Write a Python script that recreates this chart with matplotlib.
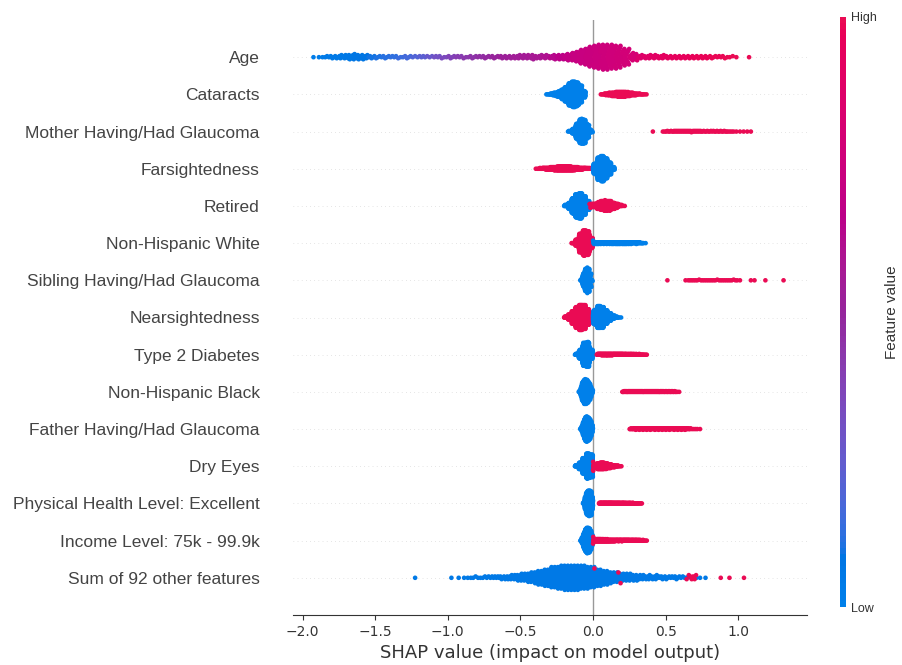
import numpy as np
import matplotlib
matplotlib.use("Agg")
import matplotlib.pyplot as plt
from matplotlib.colors import ListedColormap
from matplotlib.cm import ScalarMappable
from matplotlib.colors import Normalize

# Feature names, top to bottom
features = [
    "Age",
    "Cataracts",
    "Mother Having/Had Glaucoma",
    "Farsightedness",
    "Retired",
    "Non-Hispanic White",
    "Sibling Having/Had Glaucoma",
    "Nearsightedness",
    "Type 2 Diabetes",
    "Non-Hispanic Black",
    "Father Having/Had Glaucoma",
    "Dry Eyes",
    "Physical Health Level: Excellent",
    "Income Level: 75k - 99.9k",
    "Sum of 92 other features",
]

# SHAP value histograms. Each component: (first bin edge, bin width, feature value, counts per bin)
age_start, age_step = -1.95, 0.05
age_counts = [1, 2, 4, 5, 7, 9, 9, 7, 5, 4,
              4, 4, 3, 4, 3, 4, 3, 4, 3, 4,
              4, 3, 4, 4, 4, 4, 5, 5, 6, 7,
              7, 6, 6, 7, 9, 11, 18, 26, 34, 40,
              42, 40, 36, 26, 14, 6, 6, 6, 6, 5,
              5, 5, 5, 5, 5, 4, 4, 3, 2, 0, 1]
age_values = [0.02, 0.03, 0.04, 0.05, 0.05, 0.06, 0.07, 0.08, 0.09, 0.10,
              0.11, 0.12, 0.14, 0.16, 0.19, 0.22, 0.26, 0.30, 0.34, 0.37,
              0.40, 0.42, 0.44, 0.46, 0.48, 0.50, 0.52, 0.53, 0.54, 0.55,
              0.56, 0.58, 0.60, 0.63, 0.66, 0.69, 0.71, 0.72, 0.73, 0.74,
              0.75, 0.76, 0.77, 0.78, 0.80, 0.85, 0.88, 0.90, 0.92, 0.93,
              0.94, 0.95, 0.96, 0.97, 0.97, 0.98, 0.98, 0.99, 0.99, 1.0, 1.0]

cataracts = [
    (-0.325, 0.025, 0.0, [3, 8, 16, 28, 45, 70, 105, 120, 110, 80, 30]),
    (0.05, 0.025, 1.0, [3, 8, 14, 18, 22, 24, 24, 20, 15, 10, 6, 4, 2]),
]
mother = [
    (-0.175, 0.025, 0.0, [4, 20, 55, 80, 75, 40, 6]),
    (0.40, 0.025, 1.0, [1, 0, 0, 2, 3, 3, 4, 4, 4, 4, 4, 4, 4, 4, 3, 3, 3, 3, 3,
                        3, 3, 2, 2, 1, 1, 1, 1, 1]),
]
farsighted = [
    (-0.40, 0.025, 1.0, [2, 6, 10, 14, 18, 22, 26, 28, 28, 26, 22, 18, 14, 10, 7, 4]),
    (0.0, 0.025, 0.0, [60, 130, 150, 120, 70, 20]),
]
retired = [
    (-0.20, 0.025, 0.0, [10, 40, 100, 150, 160, 120, 60, 15]),
    (-0.025, 0.025, 1.0, [8, 25, 45, 60, 67, 60, 42, 25, 10, 2]),
]
nh_white = [
    (-0.15, 0.025, 1.0, [5, 40, 110, 150, 140, 60]),
    (0.0, 0.025, 0.0, [12, 12, 11, 11, 11, 12, 12, 12, 12, 12, 11, 10, 8, 5, 1]),
]
sibling = [
    (-0.09, 0.01, 0.0, [2, 12, 22, 27, 28, 27, 22, 12, 2]),
    (0.50, 0.025, 1.0, [1, 0, 0, 0, 0, 1, 2, 2, 2, 2, 2, 2, 2, 2, 2, 2, 2, 2, 2, 2,
                        1, 0, 0, 1, 1, 0, 0, 1, 0, 0, 0, 0, 1]),
]
nearsighted = [
    (-0.20, 0.025, 1.0, [10, 35, 80, 130, 160, 150, 100, 40]),
    (0.0, 0.025, 0.0, [90, 140, 130, 90, 50, 22, 8, 2]),
]
diabetes = [
    (-0.125, 0.025, 0.0, [10, 60, 150, 160, 60]),
    (0.025, 0.025, 1.0, [10, 12, 12, 12, 11, 10, 10, 9, 8, 8, 7, 6, 5, 3]),
]
nh_black = [
    (-0.10, 0.01, 0.0, [3, 20, 40, 50, 52, 50, 44, 35, 22, 8]),
    (0.20, 0.025, 1.0, [6, 7, 7, 7, 7, 7, 7, 7, 7, 7, 7, 6, 6, 6, 5, 2]),
]
father = [
    (-0.09, 0.01, 0.0, [3, 18, 32, 40, 42, 40, 34, 25, 12]),
    (0.25, 0.025, 1.0, [5, 7, 7, 7, 7, 7, 7, 7, 7, 7, 7, 7, 7, 7, 7, 7, 5, 2, 2, 1]),
]
dry_eyes = [
    (-0.15, 0.025, 0.0, [0, 15, 60, 140, 220, 200]),
    (0.0, 0.025, 1.0, [30, 55, 60, 50, 35, 20, 10, 3]),
]
physical = [
    (-0.07, 0.01, 0.0, [5, 40, 70, 80, 80, 75, 40]),
    (0.04, 0.025, 1.0, [10, 10, 10, 10, 9, 9, 9, 8, 8, 7, 6, 4]),
]
income = [
    (-0.09, 0.01, 0.0, [2, 20, 45, 65, 75, 75, 70, 55, 30]),
    (0.0, 0.025, 1.0, [20, 22, 20, 18, 16, 14, 12, 12, 11, 11, 10, 10, 9, 7, 3]),
]
sum_other_low = (-1.25, 0.05, 0.05,
                 [1, 0, 0, 0, 0, 1, 1, 2, 3, 3, 4, 5, 6, 8, 11, 14, 18, 24, 30, 36,
                  40, 42, 42, 40, 36, 30, 24, 19, 16, 13, 11, 9, 8, 7, 6, 5, 5, 4, 3, 2, 1])
sum_other_high = [0.01, 0.175, 0.19, 0.645, 0.66, 0.67, 0.68, 0.69, 0.70, 0.71,
                  0.88, 0.94, 1.04]

tick_values = [-2.0, -1.5, -1.0, -0.5, 0.0, 0.5, 1.0]


def expand(start, step, value, counts):
    """Spread each bin's count evenly across the bin."""
    xs, vs = [], []
    for k, n in enumerate(counts):
        lo = start + k * step
        for j in range(n):
            xs.append(lo + (j + 0.5) / n * step)
            vs.append(value)
    return xs, vs


def beeswarm_offsets(shaps, row_height=0.4, nbins=100):
    n = len(shaps)
    quant = np.round(nbins * (shaps - shaps.min()) / (shaps.max() - shaps.min() + 1e-8))
    order = np.argsort(quant, kind="stable")
    ys = np.zeros(n)
    layer, last = 0, -1
    for i in order:
        if quant[i] != last:
            layer = 0
        ys[i] = np.ceil(layer / 2) * ((layer % 2) * 2 - 1)
        layer += 1
        last = quant[i]
    ys *= 0.9 * (row_height / np.max(ys + 1))
    return ys


def lch_to_rgb(l, c, h):
    a, b = c * np.cos(h), c * np.sin(h)
    fy = (l + 16) / 116
    fx = fy + a / 500
    fz = fy - b / 200

    def finv(t):
        return t ** 3 if t > 6 / 29 else 3 * (6 / 29) ** 2 * (t - 4 / 29)

    xyz = np.array([0.95047 * finv(fx), finv(fy), 1.08883 * finv(fz)])
    m = np.array([[3.2406, -1.5372, -0.4986],
                  [-0.9689, 1.8758, 0.0415],
                  [0.0557, -0.2040, 1.0570]])
    lin = m @ xyz
    rgb = np.where(lin > 0.0031308, 1.055 * np.abs(lin) ** (1 / 2.4) - 0.055, 12.92 * lin)
    return np.clip(rgb, 0, 1)


# Blue-to-red colormap interpolated in LCH space
nsteps = 100
blue_lch = [52.0, 64.0, 4.80]
red_lch = [50.0, 80.0, 0.30 + 2 * np.pi]
l_mid = 38.0
l_vals = list(np.linspace(blue_lch[0], l_mid, nsteps // 2)) + list(np.linspace(l_mid, red_lch[0], nsteps // 2))
c_vals = np.linspace(blue_lch[1], red_lch[1], nsteps)
h_vals = np.linspace(blue_lch[2], red_lch[2], nsteps)
cmap = ListedColormap([lch_to_rgb(l, c, h) for l, c, h in zip(l_vals, c_vals, h_vals)])

# Assemble per-row points
rows = []
xs, vs = [], []
for k, n in enumerate(age_counts):
    bx, _ = expand(age_start + k * age_step, age_step, 0, [n])
    xs += bx
    vs += [age_values[k]] * n
rows.append((xs, vs))
for comps in [cataracts, mother, farsighted, retired, nh_white, sibling, nearsighted,
              diabetes, nh_black, father, dry_eyes, physical, income]:
    xs, vs = [], []
    for comp in comps:
        bx, bv = expand(*comp)
        xs += bx
        vs += bv
    rows.append((xs, vs))
xs, vs = expand(*sum_other_low)
xs += sum_other_high
vs += [1.0] * len(sum_other_high)
rows.append((xs, vs))

W, H = 903, 665
fig = plt.figure(figsize=(W / 100, H / 100), dpi=100)
ax = fig.add_axes([293 / W, 1 - 615 / H, 514 / W, 595 / H])

n_rows = len(features)
for i, (xs, vs) in enumerate(rows):
    pos = n_rows - 1 - i
    ax.axhline(y=pos, color="#cccccc", lw=0.5, dashes=(1, 5), zorder=-1)
    shaps = np.array(xs)
    ys = beeswarm_offsets(shaps)
    ax.scatter(shaps, pos + ys, c=vs, cmap=cmap, vmin=0, vmax=1, s=11,
               linewidth=0, zorder=3)

ax.axvline(x=0, color="#999999", lw=1, zorder=-1)

ax.set_xlim(-2.066, 1.474)
ax.set_ylim(-1, n_rows)
ax.set_xticks(tick_values)
ax.set_xticklabels([f"{t:.1f}".replace("-", "\u2212") for t in tick_values])
ax.set_yticks(range(n_rows))
ax.set_yticklabels(features[::-1], fontsize=12.5, family="Liberation Sans", color="#444444")
ax.tick_params("y", length=0, pad=24)
ax.tick_params("x", labelsize=10, color="#333333", labelcolor="#333333")
for s in ["top", "right", "left"]:
    ax.spines[s].set_visible(False)
ax.spines["bottom"].set_color("#333333")
ax.set_xlabel("SHAP value (impact on model output)", fontsize=13, color="#333333")

cax = fig.add_axes([840 / W, 1 - 607 / H, 6 / W, 590 / H])
cb = fig.colorbar(ScalarMappable(norm=Normalize(0, 1), cmap=cmap), cax=cax, ticks=[0, 1])
cb.set_ticklabels(["Low", "High"])
cb.ax.tick_params(labelsize=9, length=0, labelcolor="#333333")
for t in cb.ax.get_yticklabels():
    t.set_family("Liberation Sans")
cb.outline.set_visible(False)
cb.set_label("Feature value", size=11, labelpad=6, family="Liberation Sans", color="#333333")

fig.savefig("out.png", dpi=100)
